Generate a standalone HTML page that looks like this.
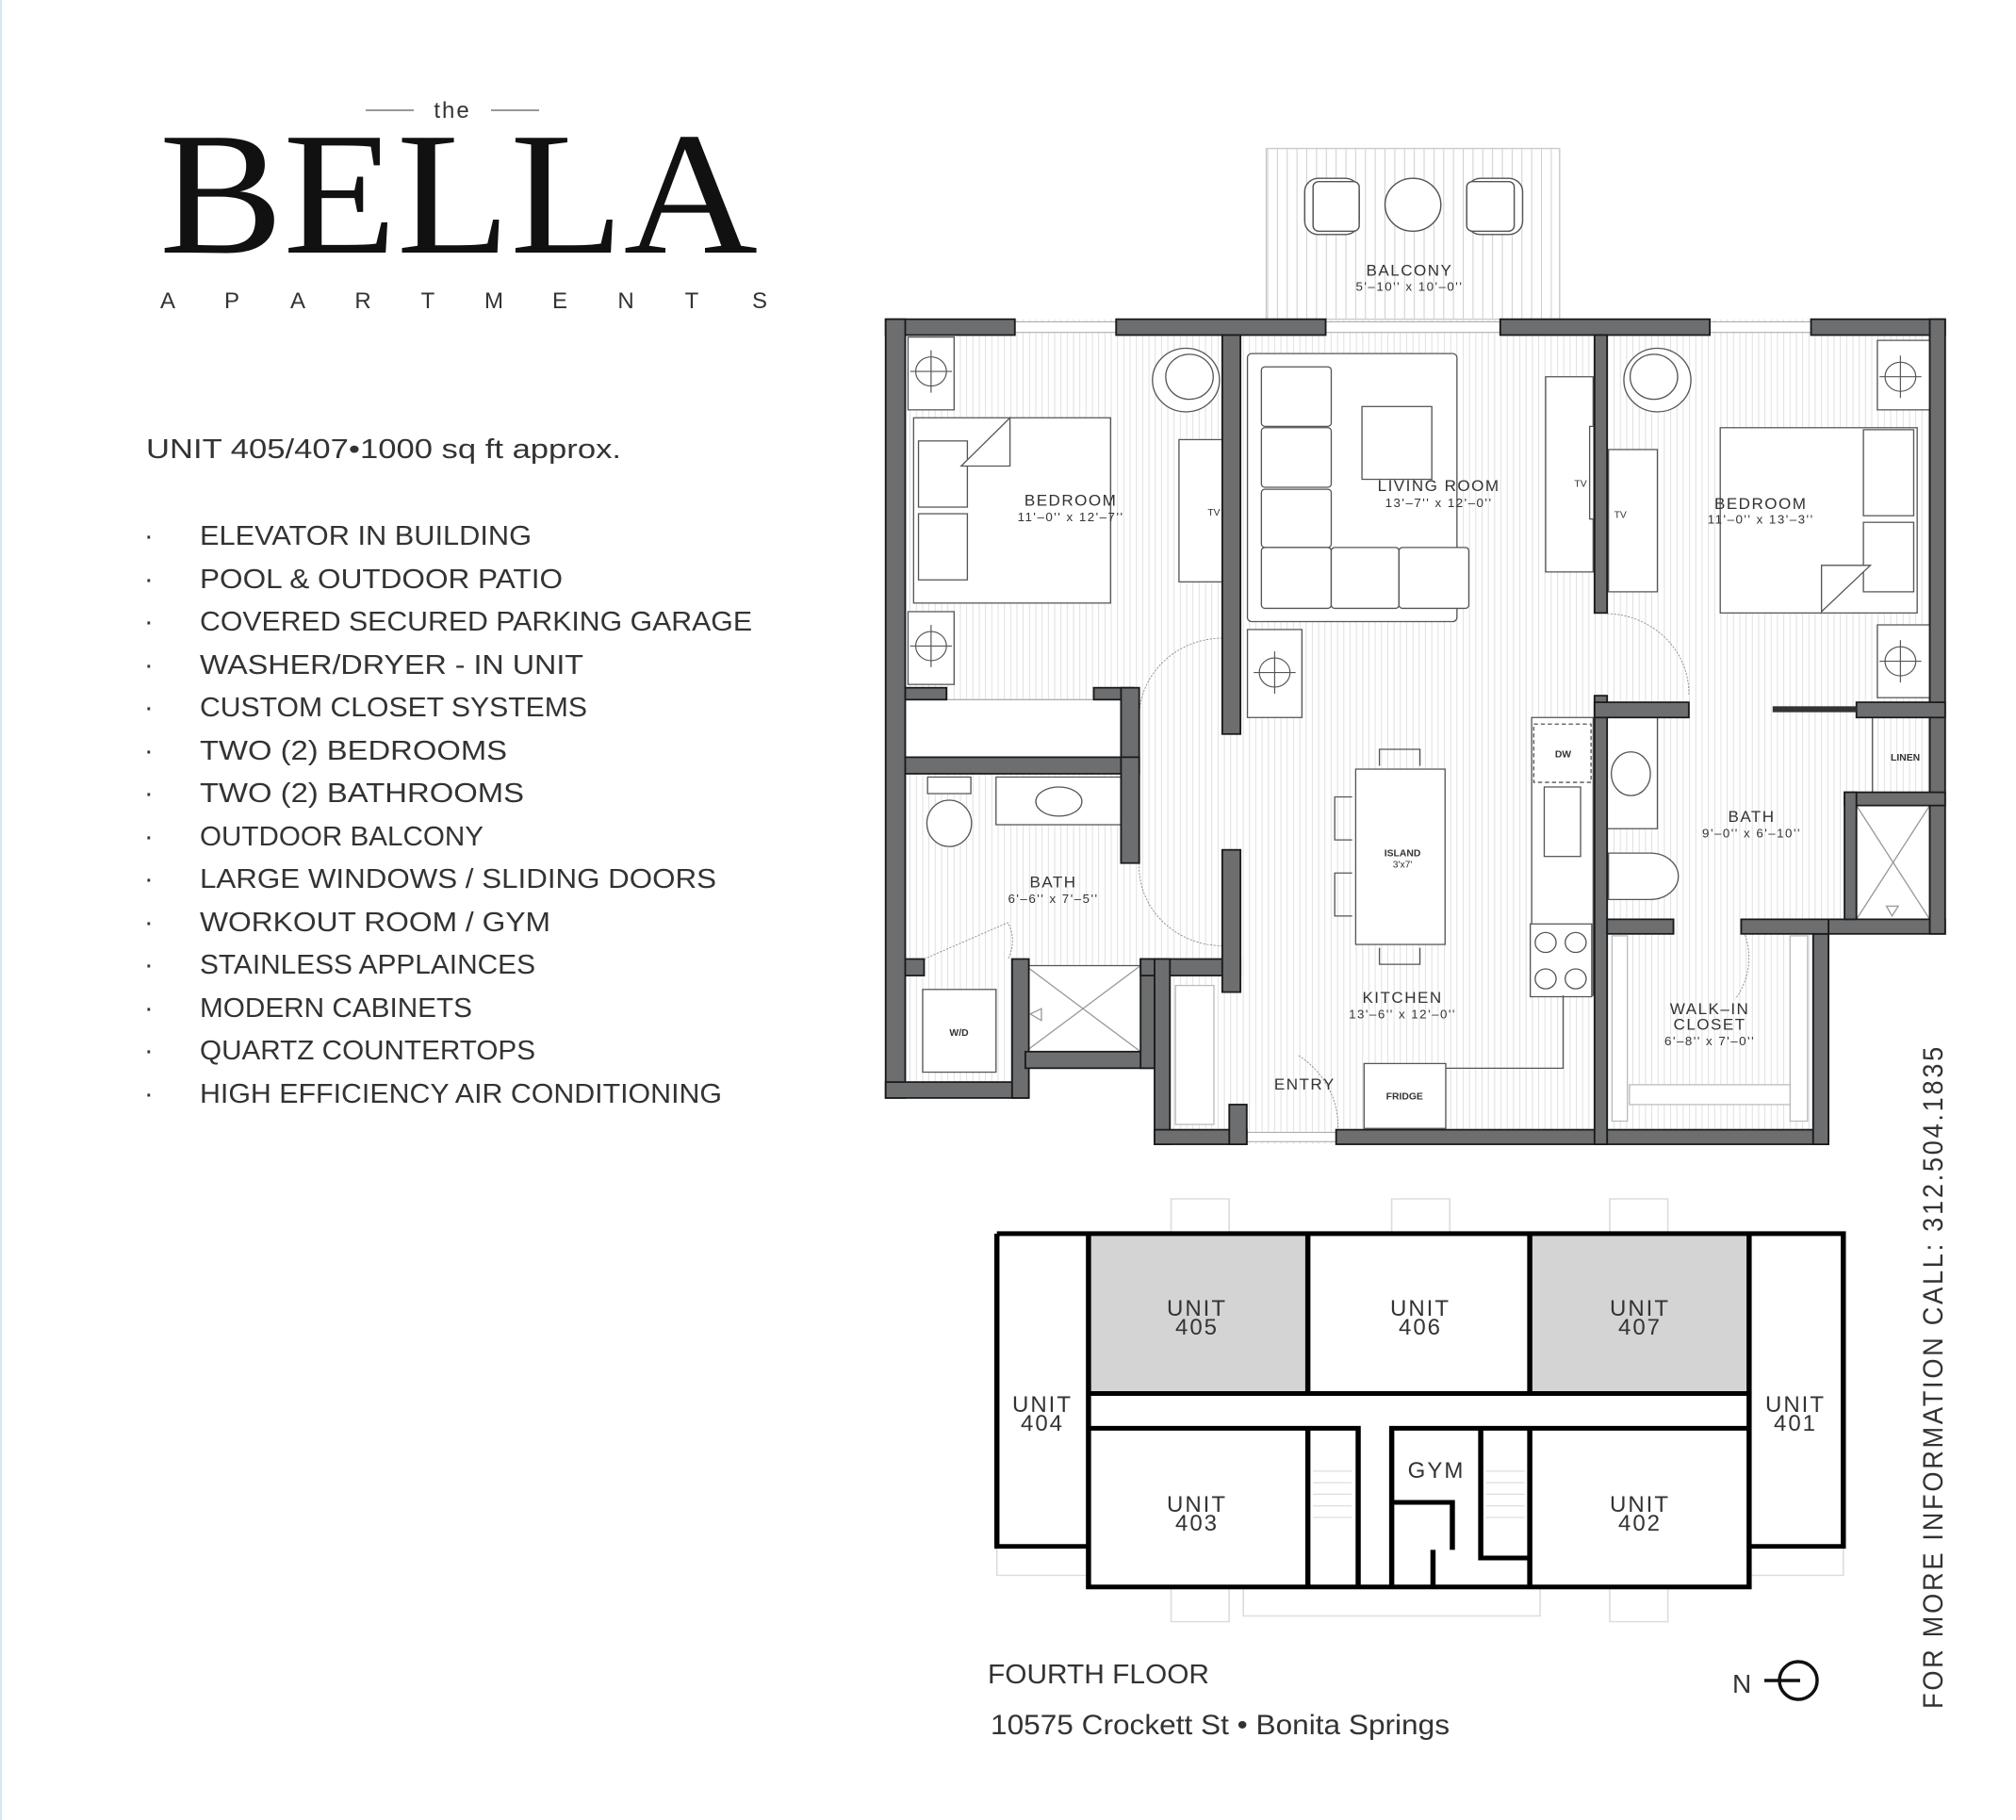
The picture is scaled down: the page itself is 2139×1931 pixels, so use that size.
<!DOCTYPE html>
<html><head><meta charset="utf-8"><style>
html,body{margin:0;padding:0;background:#fff}
body{width:2139px;height:1931px;overflow:hidden;position:relative}
svg{position:absolute;left:0;top:0}
text{font-family:"Liberation Sans",sans-serif;fill:#333}
</style></head><body>
<svg width="2139" height="1931" viewBox="0 0 2139 1931" xmlns="http://www.w3.org/2000/svg">
<defs>
<pattern id="h" width="9" height="10" patternUnits="userSpaceOnUse"><line x1="4" y1="0" x2="4" y2="10" stroke="#dcdcdc" stroke-width="1.2"/></pattern>
<pattern id="hb" width="14" height="10" patternUnits="userSpaceOnUse"><line x1="6" y1="0" x2="6" y2="10" stroke="#d0d0d0" stroke-width="1.4"/></pattern>
</defs>
<rect x="0" y="0" width="2" height="1931" fill="#d5e6f3"/>

<!-- Title -->
<line x1="388" y1="117" x2="439" y2="117" stroke="#777" stroke-width="1.5"/>
<line x1="521" y1="117" x2="572" y2="117" stroke="#777" stroke-width="1.5"/>
<text x="480" y="125" font-size="24" text-anchor="middle" style="letter-spacing:2px">the</text>
<text x="169" y="268" font-size="186" textLength="635" lengthAdjust="spacingAndGlyphs" style="font-family:'Liberation Serif',serif;fill:#111">BELLA</text>
<g font-size="24" text-anchor="middle">
<text x="178" y="327">A</text><text x="246" y="327">P</text><text x="316" y="327">A</text><text x="385" y="327">R</text><text x="454" y="327">T</text><text x="524" y="327">M</text><text x="594" y="327">E</text><text x="664" y="327">N</text><text x="734" y="327">T</text><text x="806" y="327">S</text>
</g>
<text x="155" y="486" font-size="29" textLength="504" lengthAdjust="spacingAndGlyphs">UNIT 405/407•1000 sq ft approx.</text>
<g font-size="29">
<text x="153" y="578">·</text><text x="212" y="578" textLength="352" lengthAdjust="spacingAndGlyphs">ELEVATOR IN BUILDING</text>
<text x="153" y="624">·</text><text x="212" y="624" textLength="385" lengthAdjust="spacingAndGlyphs">POOL &amp; OUTDOOR PATIO</text>
<text x="153" y="669">·</text><text x="212" y="669" textLength="586" lengthAdjust="spacingAndGlyphs">COVERED SECURED PARKING GARAGE</text>
<text x="153" y="715">·</text><text x="212" y="715" textLength="407" lengthAdjust="spacingAndGlyphs">WASHER/DRYER - IN UNIT</text>
<text x="153" y="760">·</text><text x="212" y="760" textLength="411" lengthAdjust="spacingAndGlyphs">CUSTOM CLOSET SYSTEMS</text>
<text x="153" y="806">·</text><text x="212" y="806" textLength="326" lengthAdjust="spacingAndGlyphs">TWO (2) BEDROOMS</text>
<text x="153" y="851">·</text><text x="212" y="851" textLength="344" lengthAdjust="spacingAndGlyphs">TWO (2) BATHROOMS</text>
<text x="153" y="897">·</text><text x="212" y="897" textLength="301" lengthAdjust="spacingAndGlyphs">OUTDOOR BALCONY</text>
<text x="153" y="942">·</text><text x="212" y="942" textLength="548" lengthAdjust="spacingAndGlyphs">LARGE WINDOWS / SLIDING DOORS</text>
<text x="153" y="988">·</text><text x="212" y="988" textLength="372" lengthAdjust="spacingAndGlyphs">WORKOUT ROOM / GYM</text>
<text x="153" y="1033">·</text><text x="212" y="1033" textLength="356" lengthAdjust="spacingAndGlyphs">STAINLESS APPLAINCES</text>
<text x="153" y="1079">·</text><text x="212" y="1079" textLength="289" lengthAdjust="spacingAndGlyphs">MODERN CABINETS</text>
<text x="153" y="1124">·</text><text x="212" y="1124" textLength="356" lengthAdjust="spacingAndGlyphs">QUARTZ COUNTERTOPS</text>
<text x="153" y="1170">·</text><text x="212" y="1170" textLength="554" lengthAdjust="spacingAndGlyphs">HIGH EFFICIENCY AIR CONDITIONING</text>
</g>

<!-- Floor plan -->
<g transform="matrix(0.741,0,0,0.702,936,140)">
<!-- balcony -->
<rect x="550" y="25" width="420" height="258" fill="url(#hb)" stroke="#ccc" stroke-width="2"/>
<g fill="#fff" stroke="#555" stroke-width="2">
<rect x="605" y="70" width="78" height="85" rx="20"/><rect x="617" y="75" width="66" height="75" rx="8"/>
<circle cx="760" cy="110" r="40"/>
<rect x="837" y="70" width="80" height="85" rx="20"/><rect x="837" y="75" width="68" height="75" rx="8"/>
</g>
<!-- floor -->
<polygon points="5,283 1522,283 1522,1212 1355,1212 1355,1530 390,1530 390,1415 210,1415 210,1460 5,1460" fill="url(#h)"/>
<!-- furniture -->
<g fill="#fff" stroke="#555" stroke-width="1.8">
<rect x="37" y="310" width="66" height="110"/><rect x="37" y="725" width="66" height="110"/>
<rect x="1425" y="315" width="78" height="105"/><rect x="1425" y="745" width="78" height="110"/>
<rect x="523" y="752" width="78" height="133"/>
<rect x="45" y="432" width="282" height="280"/>
<rect x="52" y="467" width="70" height="100"/><rect x="52" y="577" width="70" height="100"/>
<polygon points="113,505 183,432 183,505"/>
<rect x="425" y="465" width="70" height="215"/><rect x="490" y="505" width="6" height="135"/>
<circle cx="435" cy="375" r="48"/><circle cx="440" cy="370" r="34"/>
<circle cx="1110" cy="375" r="48"/><circle cx="1105" cy="370" r="34"/>
<rect x="523" y="335" width="300" height="405" rx="6"/>
<rect x="543" y="355" width="100" height="90" rx="5"/><rect x="543" y="447" width="100" height="90" rx="5"/><rect x="543" y="540" width="100" height="88" rx="5"/><rect x="543" y="628" width="100" height="92" rx="5"/><rect x="643" y="628" width="97" height="92" rx="5"/><rect x="740" y="628" width="100" height="92" rx="5"/>
<rect x="687" y="415" width="100" height="110"/>
<rect x="950" y="370" width="68" height="295"/>
<rect x="1040" y="480" width="70" height="215"/><rect x="1013" y="445" width="6" height="140"/>
<rect x="1200" y="447" width="282" height="280"/>
<rect x="1405" y="450" width="72" height="130"/><rect x="1405" y="590" width="72" height="105"/>
<polygon points="1345,655 1415,655 1345,725"/>
<rect x="678" y="963" width="128" height="265"/>
<path d="M712,958 v-25 h58 v25 M712,1233 v25 h58 v-25 M673,1005 h-25 v65 h25 M673,1120 h-25 v65 h25" fill="none"/>
<rect x="930" y="885" width="88" height="420"/>
<rect x="933" y="895" width="82" height="88" stroke-dasharray="6 4"/>
<rect x="948" y="990" width="52" height="105"/>
<rect x="928" y="1197" width="88" height="110"/>
<circle cx="950" cy="1225" r="15"/><circle cx="993" cy="1225" r="15"/><circle cx="950" cy="1280" r="15"/><circle cx="993" cy="1280" r="15"/>
<rect x="690" y="1408" width="117" height="98"/>
<path d="M807,1415 H975 V1305" fill="none"/>
<rect x="58" y="1296" width="105" height="125"/>
<rect x="205" y="1260" width="165" height="130"/>
<path d="M205,1260 L370,1390 M370,1260 L205,1390 M228,1325 L212,1333 L228,1343 Z" fill="none" stroke="#999"/>
<rect x="65" y="975" width="62" height="25"/><ellipse cx="96" cy="1045" rx="32" ry="35"/>
<rect x="163" y="975" width="180" height="72"/><ellipse cx="253" cy="1012" rx="33" ry="22"/>
<rect x="33" y="858" width="310" height="87" stroke="#aaa"/>
<rect x="1038" y="885" width="72" height="168"/><ellipse cx="1072" cy="970" rx="28" ry="33"/>
<path d="M1040,1090 h60 a40,35 0 0 1 0,70 h-60 z"/>
<rect x="1395" y="1018" width="105" height="172"/>
<path d="M1395,1018 L1500,1190 M1500,1018 L1395,1190 M1438,1170 L1455,1170 L1446,1185 Z" fill="none" stroke="#999"/>
<line x1="1418" y1="885" x2="1418" y2="998"/>
<rect x="1045" y="1215" width="22" height="280" stroke="#bbb"/><rect x="1300" y="1215" width="25" height="280" stroke="#bbb"/><rect x="1070" y="1440" width="230" height="30" stroke="#bbb"/>
<rect x="420" y="1290" width="55" height="210" stroke="#bbb"/>
</g>
<g fill="none" stroke="#555" stroke-width="1.6">
<circle cx="70" cy="362" r="22"/><path d="M40,362h60M70,330v64"/>
<circle cx="70" cy="777" r="22"/><path d="M40,777h60M70,745v64"/>
<circle cx="1458" cy="370" r="22"/><path d="M1428,370h60M1458,338v64"/>
<circle cx="1458" cy="800" r="22"/><path d="M1428,800h60M1458,768v64"/>
<circle cx="562" cy="817" r="22"/><path d="M532,817h60M562,785v64"/>
</g>
<g fill="none" stroke="#888" stroke-width="1.2" stroke-dasharray="3 2">
<path d="M487,765 A120,120 0 0 0 368,885"/>
<path d="M368,1105 A120,120 0 0 0 487,1230"/>
<path d="M1038,728 A120,120 0 0 1 1155,850"/>
<path d="M1230,1200 A110,110 0 0 1 1222,1310"/>
<path d="M650,1530 A130,130 0 0 0 595,1395"/>
<path d="M60,1250 L180,1195 A60,60 0 0 1 180,1250"/>
</g>
<!-- windows -->
<g fill="#fff" stroke="#aaa" stroke-width="1.5">
<rect x="190" y="287" width="145" height="16"/><rect x="635" y="287" width="250" height="16"/><rect x="1185" y="287" width="145" height="16"/>
<rect x="522" y="1512" width="128" height="14"/>
</g>
<!-- walls -->
<g fill="#6d6e70" stroke="#1a1a1a" stroke-width="2.5">
<rect x="5" y="283" width="185" height="24"/><rect x="335" y="283" width="300" height="24"/><rect x="885" y="283" width="300" height="24"/><rect x="1330" y="283" width="192" height="24"/>
<rect x="5" y="283" width="28" height="1177"/>
<rect x="5" y="1436" width="205" height="24"/>
<rect x="186" y="1250" width="24" height="210"/>
<rect x="205" y="1390" width="205" height="25"/>
<rect x="370" y="1250" width="40" height="165"/>
<rect x="370" y="1250" width="143" height="25"/>
<rect x="390" y="1250" width="22" height="280"/>
<rect x="390" y="1508" width="132" height="22"/>
<rect x="497" y="1470" width="25" height="60"/>
<rect x="487" y="1085" width="26" height="215"/>
<rect x="650" y="1508" width="705" height="22"/>
<rect x="1333" y="1190" width="22" height="340"/>
<rect x="1333" y="1190" width="189" height="22"/>
<rect x="1500" y="283" width="22" height="929"/>
<rect x="33" y="840" width="59" height="18"/><rect x="303" y="840" width="57" height="18"/>
<rect x="342" y="840" width="26" height="130"/>
<rect x="33" y="945" width="327" height="25"/>
<rect x="342" y="945" width="26" height="160"/>
<rect x="33" y="1250" width="27" height="25"/>
<rect x="487" y="307" width="26" height="603"/>
<rect x="1020" y="307" width="18" height="420"/>
<rect x="1020" y="852" width="18" height="678"/>
<rect x="1020" y="862" width="135" height="23"/>
<rect x="1395" y="862" width="127" height="23"/>
<rect x="1378" y="998" width="144" height="20"/>
<rect x="1378" y="998" width="17" height="192"/>
<rect x="1038" y="1190" width="95" height="22"/><rect x="1230" y="1190" width="125" height="22"/>
</g>
<rect x="1275" y="868" width="120" height="9" fill="#333"/>
<!-- labels -->
<g text-anchor="middle" style="fill:#222">
<text x="755" y="217" font-size="23" letter-spacing="2">BALCONY</text><text x="755" y="240" font-size="18" letter-spacing="2">5'–10'' x 10'–0''</text>
<text x="270" y="565" font-size="23" letter-spacing="2">BEDROOM</text><text x="270" y="588" font-size="18" letter-spacing="2">11'–0'' x 12'–7''</text>
<text x="797" y="543" font-size="23" letter-spacing="2">LIVING ROOM</text><text x="797" y="567" font-size="18" letter-spacing="2">13'–7'' x 12'–0''</text>
<text x="1258" y="570" font-size="23" letter-spacing="2">BEDROOM</text><text x="1258" y="592" font-size="18" letter-spacing="2">11'–0'' x 13'–3''</text>
<text x="475" y="580" font-size="14">TV</text><text x="1000" y="536" font-size="14">TV</text><text x="1057" y="583" font-size="14">TV</text>
<text x="245" y="1142" font-size="23" letter-spacing="2">BATH</text><text x="245" y="1165" font-size="18" letter-spacing="2">6'–6'' x 7'–5''</text>
<text x="1245" y="1043" font-size="23" letter-spacing="2">BATH</text><text x="1245" y="1066" font-size="18" letter-spacing="2">9'–0'' x 6'–10''</text>
<text x="745" y="1095" font-size="14" font-weight="bold">ISLAND</text><text x="745" y="1112" font-size="14">3'x7'</text>
<text x="745" y="1316" font-size="23" letter-spacing="2">KITCHEN</text><text x="745" y="1340" font-size="18" letter-spacing="2">13'–6'' x 12'–0''</text>
<text x="1185" y="1333" font-size="23" letter-spacing="2">WALK–IN</text><text x="1185" y="1357" font-size="23" letter-spacing="2">CLOSET</text><text x="1185" y="1380" font-size="18" letter-spacing="2">6'–8'' x 7'–0''</text>
<text x="605" y="1447" font-size="23" letter-spacing="2">ENTRY</text>
<text x="975" y="945" font-size="14" font-weight="bold">DW</text>
<text x="1465" y="950" font-size="14" font-weight="bold">LINEN</text>
<text x="748" y="1462" font-size="14" font-weight="bold">FRIDGE</text>
<text x="110" y="1366" font-size="14" font-weight="bold">W/D</text>
</g>
</g>

<!-- Mini building plan -->
<g transform="matrix(1.369,0,0,1.229,-6,0)">
<g fill="#fff" stroke="#ddd" stroke-width="1.2">
<rect x="912" y="1035" width="45" height="30"/><rect x="1083" y="1035" width="45" height="30"/><rect x="1252" y="1035" width="45" height="30"/>
<rect x="912" y="1370" width="45" height="30"/><rect x="1252" y="1370" width="45" height="30"/><rect x="968" y="1370" width="230" height="25"/>
<rect x="777" y="1335" width="71" height="25"/><rect x="1360" y="1335" width="73" height="25"/>
</g>
<rect x="848" y="1065" width="170" height="138" fill="#d4d4d4"/>
<rect x="1190" y="1065" width="170" height="138" fill="#d4d4d4"/>
<g fill="none" stroke="#000" stroke-width="4">
<path d="M777,1065 H1433 V1335 H1360 M777,1065 V1335 H848 M848,1065 V1370 H1360 V1065"/>
<path d="M1018,1065 V1203 M1190,1065 V1203 M848,1203 H1360 M848,1233 H1057 V1370 M1083,1370 V1233 H1360 M1018,1233 V1370"/>
<path d="M1083,1297 H1130 V1338 M1115,1338 V1370 M1152,1233 V1345 H1190 M1190,1233 V1370"/>
</g>
<g stroke="#ddd" stroke-width="1">
<path d="M1022,1270 h30 M1022,1280 h30 M1022,1290 h30 M1022,1300 h30 M1022,1310 h30 M1156,1270 h30 M1156,1280 h30 M1156,1290 h30 M1156,1300 h30 M1156,1310 h30"/>
</g>
</g>
<g text-anchor="middle" font-size="24" style="letter-spacing:2px;fill:#444">
<text x="1270" y="1396">UNIT</text><text x="1270" y="1416">405</text>
<text x="1507" y="1396">UNIT</text><text x="1507" y="1416">406</text>
<text x="1740" y="1396">UNIT</text><text x="1740" y="1416">407</text>
<text x="1106" y="1498">UNIT</text><text x="1106" y="1518">404</text>
<text x="1905" y="1498">UNIT</text><text x="1905" y="1518">401</text>
<text x="1270" y="1604">UNIT</text><text x="1270" y="1624">403</text>
<text x="1740" y="1604">UNIT</text><text x="1740" y="1624">402</text>
<text x="1524" y="1568">GYM</text>
</g>
<text x="1048" y="1786" font-size="29" textLength="235" lengthAdjust="spacingAndGlyphs">FOURTH FLOOR</text>
<text x="1051" y="1840" font-size="30" textLength="487" lengthAdjust="spacingAndGlyphs">10575 Crockett St • Bonita Springs</text>
<text x="1838" y="1796" font-size="28">N</text>
<line x1="1872" y1="1783" x2="1910" y2="1783" stroke="#111" stroke-width="3.5"/>
<circle cx="1908" cy="1783" r="20" fill="none" stroke="#111" stroke-width="3.5"/>
<text transform="translate(2061,1813) rotate(-90)" font-size="30" textLength="705" lengthAdjust="spacingAndGlyphs" style="letter-spacing:3px">FOR MORE INFORMATION CALL: 312.504.1835</text>
</svg>
</body></html>
